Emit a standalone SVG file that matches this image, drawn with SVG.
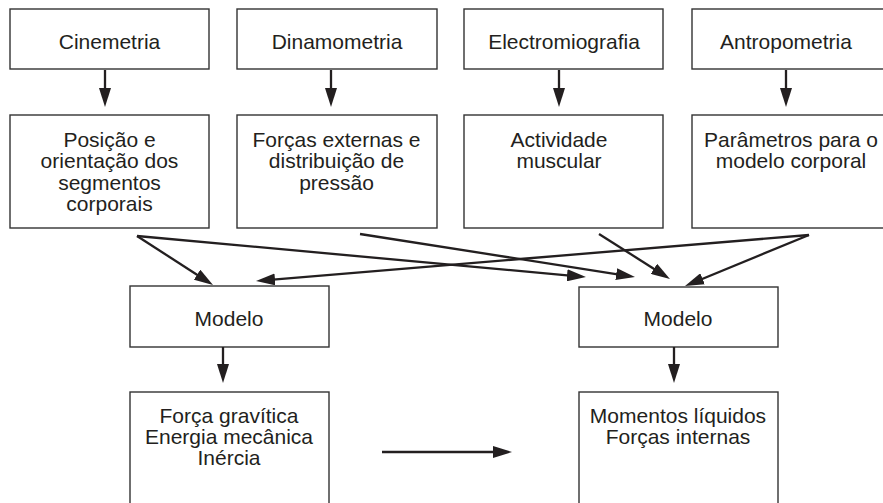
<svg xmlns="http://www.w3.org/2000/svg" width="883" height="503" viewBox="0 0 883 503">
<defs>
<marker id="ah" markerUnits="userSpaceOnUse" viewBox="0 0 19 12" markerWidth="19" markerHeight="12" refX="11" refY="6" orient="auto">
<path d="M0,0 L19,6 L0,12 Z" fill="#231f20"/>
</marker>
<style>
.box{fill:#fff;stroke:#333;stroke-width:1.4}
.t{font-family:"Liberation Sans",Arial,sans-serif;font-size:21px;fill:#231f20;text-anchor:middle}
.c{stroke:#231f20;stroke-width:2.3;fill:none;marker-end:url(#ah)}
</style>
</defs>
<rect width="883" height="503" fill="#fff"/>
<g id="cinemetria"><rect class="box" x="10" y="9" width="199" height="60"/><text class="t" x="109.5" y="49">Cinemetria</text></g>
<g id="dinamometria"><rect class="box" x="237" y="9" width="200" height="60"/><text class="t" x="337" y="49">Dinamometria</text></g>
<g id="electromiografia"><rect class="box" x="464" y="9" width="199" height="60"/><text class="t" x="564" y="49">Electromiografia</text></g>
<g id="antropometria"><rect class="box" x="692" y="9" width="199" height="60"/><text class="t" x="786" y="49">Antropometria</text></g>
<g id="posicao"><rect class="box" x="10" y="115" width="199" height="113"/><text class="t" x="109.5" y="147">Posição e</text><text class="t" x="109.5" y="168">orientação dos</text><text class="t" x="109.5" y="190">segmentos</text><text class="t" x="109.5" y="211">corporais</text></g>
<g id="forcas"><rect class="box" x="237" y="115" width="200" height="113"/><text class="t" x="336.5" y="147">Forças externas e</text><text class="t" x="336.5" y="168">distribuição de</text><text class="t" x="336.5" y="190">pressão</text></g>
<g id="actividade"><rect class="box" x="464" y="115" width="199" height="113"/><text class="t" x="559" y="147">Actividade</text><text class="t" x="559" y="168">muscular</text></g>
<g id="parametros"><rect class="box" x="692" y="115" width="199" height="113"/><text class="t" x="791" y="147">Parâmetros para o</text><text class="t" x="791" y="168">modelo corporal</text></g>
<g id="modelo1"><rect class="box" x="130" y="286" width="199" height="61"/><text class="t" x="229" y="326">Modelo</text></g>
<g id="modelo2"><rect class="box" x="579" y="287" width="199" height="60"/><text class="t" x="678" y="326">Modelo</text></g>
<g id="resultado1"><rect class="box" x="130" y="392" width="199" height="130"/><text class="t" x="229" y="423">Força gravítica</text><text class="t" x="229" y="444">Energia mecânica</text><text class="t" x="229" y="465">Inércia</text></g>
<g id="resultado2"><rect class="box" x="579" y="392" width="199" height="130"/><text class="t" x="678" y="423">Momentos líquidos</text><text class="t" x="678" y="444">Forças internas</text></g>
<g id="connectors">
<line class="c" x1="105" y1="70" x2="105" y2="99"/>
<line class="c" x1="331" y1="70" x2="331" y2="99"/>
<line class="c" x1="559" y1="70" x2="559" y2="99"/>
<line class="c" x1="786" y1="70" x2="786" y2="99"/>
<line class="c" x1="137" y1="236" x2="206.3" y2="280.7"/>
<line class="c" x1="137" y1="236" x2="578" y2="276.3"/>
<line class="c" x1="360" y1="234" x2="627.1" y2="275.8"/>
<line class="c" x1="599" y1="234" x2="663.2" y2="274.7"/>
<line class="c" x1="809" y1="235" x2="264" y2="280.3"/>
<line class="c" x1="809" y1="235" x2="692.4" y2="283"/>
<line class="c" x1="223" y1="347" x2="223" y2="375"/>
<line class="c" x1="674" y1="347" x2="674" y2="375"/>
<line class="c" x1="382" y1="452" x2="504" y2="452"/>
</g>
</svg>
